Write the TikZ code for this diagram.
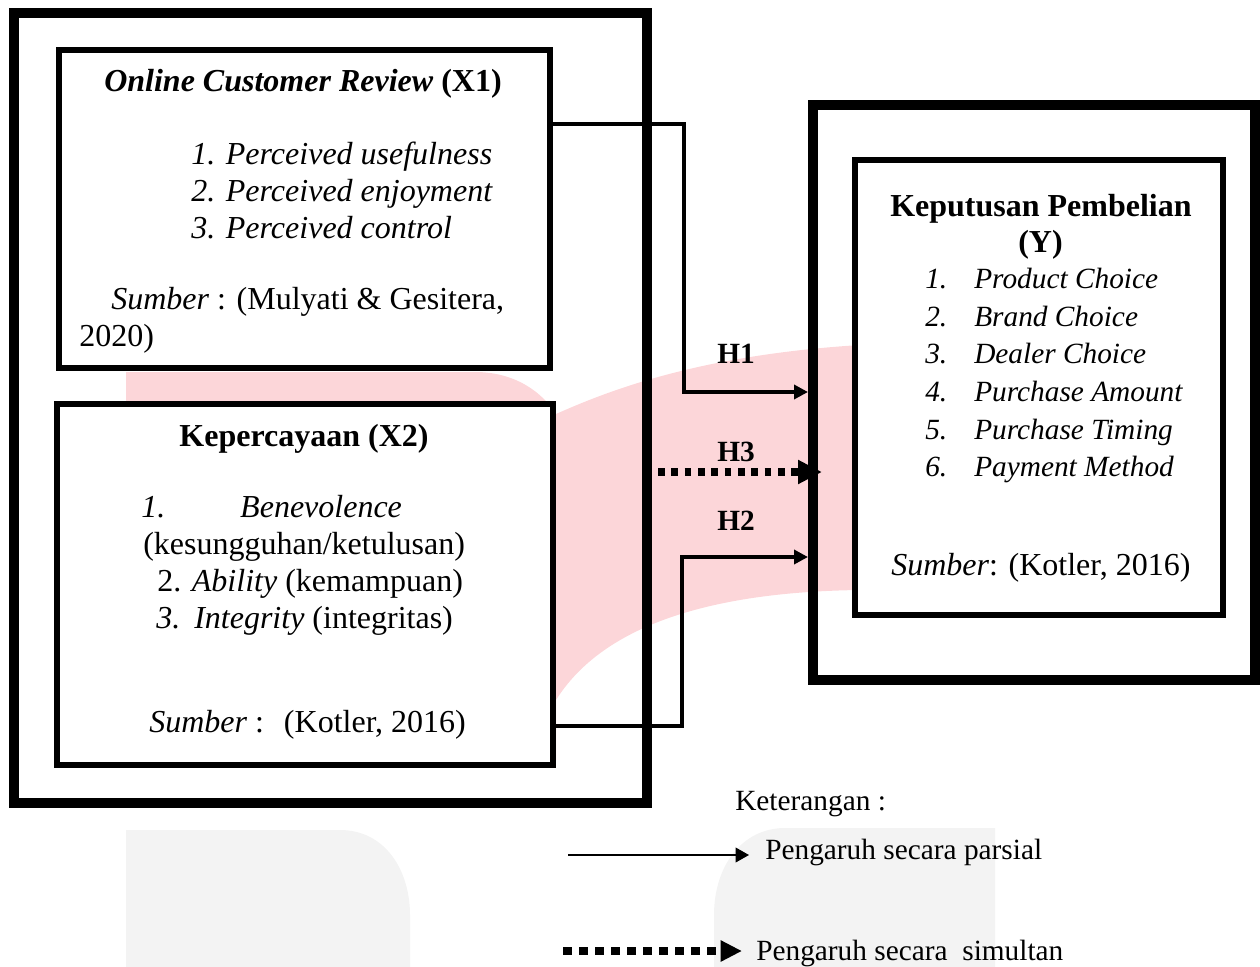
\documentclass[tikz,border=0pt]{standalone}
\usepackage{fontspec}
\setmainfont{Liberation Serif}
\usepackage{xcolor}
\usepackage{tikz}
\usetikzlibrary{positioning}
\usetikzlibrary{arrows.meta}

\definecolor{wmpink}{RGB}{252,214,217}
\definecolor{wmgrey}{RGB}{243,243,243}

\begin{document}
\begin{tikzpicture}[x=0.75pt, y=-0.75pt,
		frame/.style={draw, line width=7.5pt, inner sep=0pt},
		varbox/.style={draw, fill=white, line width=4.5pt, inner sep=0pt},
		txt/.style={inner sep=0pt, font=\fontsize{24}{28}\selectfont},
		small/.style={inner sep=0pt, font=\fontsize{22}{26}\selectfont},
		item/.style={inner sep=0pt, font=\fontsize{22}{26}\selectfont\itshape},
		hlabel/.style={inner sep=0pt, font=\fontsize{22}{26}\selectfont\bfseries},
		parsial/.style={line width=3pt, -{Triangle[length=10.5pt,width=10.5pt]}},
		simultan/.style={line width=6pt, dash pattern=on 5pt off 5pt,
			-{Triangle[length=18pt,width=17pt]}}]
		\useasboundingbox (0,0) rectangle (1260,967);

		\fill[wmpink] (126,372) -- (475,372)
			.. controls (515,372) and (542,392) .. (556,414)
			.. controls (610,390) and (700,355) .. (860,345)
			-- (860,590)
			.. controls (700,592) and (600,630) .. (556,700)
			-- (556,760) -- (126,760) -- cycle;
		\fill[wmgrey] (126,967) |- (340,830)
			.. controls (385,830) and (410,870) .. (410,915) -- (410,967) -- cycle;
		\fill[wmgrey] (995,967) |- (785,828)
			.. controls (742,828) and (714,866) .. (714,915) -- (714,967) -- cycle;

		\node [frame, minimum width=475.1pt, minimum height=592.5pt]
			(leftframe) at (330.25,408) {};
		\node [varbox, minimum width=368.25pt, minimum height=238.5pt]
			(ocr) at (304.5,209) {};
		\node [varbox, minimum width=372pt, minimum height=270.75pt,
			below=22.5pt of ocr] (trust) {};
		\node [frame, minimum width=331.5pt, minimum height=431.25pt]
			(rightframe) at (1034,392.5) {};
		\node [varbox, minimum width=276pt, minimum height=341.6pt]
			(decision) at (1039,387.75) {};

		\node [txt, anchor=base] (ocrtitle) at (303,91)
			{\textbf{\textit{Online Customer Review} (X1)}};
		\node [txt, anchor=base west] (ocra) at (191,164) {\textit{1. Perceived usefulness}};
		\node [txt, anchor=base west] (ocrb) at (191,201) {\textit{2. Perceived enjoyment}};
		\node [txt, anchor=base west] (ocrc) at (191,238) {\textit{3. Perceived control}};
		\node [txt, anchor=base west] (ocrsrc) at (111,309)
			{\textit{Sumber} : (Mulyati \& Gesitera,};
		\node [txt, anchor=base west] (ocryear) at (79,346) {2020)};

		\node [txt, anchor=base] (trusttitle) at (304,446) {\textbf{Kepercayaan (X2)}};
		\node [txt, anchor=base west] (trusta) at (141,517)
			{\makebox[74.25pt][l]{\textit{1.}}\textit{Benevolence}};
		\node [txt, anchor=base west] (trustb) at (143,554) {(kesungguhan/ketulusan)};
		\node [txt, anchor=base west] (trustc) at (157,591) {2. \textit{Ability} (kemampuan)};
		\node [txt, anchor=base west] (trustd) at (156,628)
			{\makebox[28.5pt][l]{\textit{3.}}\textit{Integrity} (integritas)};
		\node [txt, anchor=base west] (trustsrc) at (149,732)
			{\textit{Sumber} :\hspace{15pt}(Kotler, 2016)};

		\node [txt, anchor=base west] (dectitle) at (890,216) {\textbf{Keputusan Pembelian}};
		\node [txt, anchor=base west] (decy) at (1018,252) {\textbf{(Y)}};
		\node [item, anchor=base west] (deca) at (925,288.6)
			{\makebox[36.75pt][l]{1.}Product Choice};
		\node [item, anchor=base west] (decb) at (925,326.2)
			{\makebox[36.75pt][l]{2.}Brand Choice};
		\node [item, anchor=base west] (decc) at (925,363.8)
			{\makebox[36.75pt][l]{3.}Dealer Choice};
		\node [item, anchor=base west] (decd) at (925,401.4)
			{\makebox[36.75pt][l]{4.}Purchase Amount};
		\node [item, anchor=base west] (dece) at (925,439)
			{\makebox[36.75pt][l]{5.}Purchase Timing};
		\node [item, anchor=base west] (decf) at (925,476.6)
			{\makebox[36.75pt][l]{6.}Payment Method};
		\node [txt, anchor=base west] (decsrc) at (891,575)
			{\textit{Sumber}: (Kotler, 2016)};

		\node [hlabel, anchor=base west] (hone) at (717,363) {H1};
		\node [hlabel, anchor=base west] (hthree) at (717,461) {H3};
		\node [hlabel, anchor=base west] (htwo) at (717,530) {H2};

		\node [small, anchor=base west] (legend) at (735,810) {Keterangan :};
		\node [small, anchor=base west] (partxt) at (765,859) {Pengaruh secara parsial};
		\node [small, anchor=base west] (simtxt) at (756,960) {Pengaruh secara\ \ simultan};

		\coordinate (h1row) at (0,124);
		\coordinate (h1bend) at (684,392);
		\coordinate (h2row) at (0,726);
		\coordinate (h2bend) at (682,557);
		\coordinate (h3start) at (658,472);
		\coordinate (legpar) at (568,855);
		\coordinate (legsim) at (563,951);

		\draw [parsial] (ocr.east |- h1row) -| (h1bend) -- (rightframe.west |- h1bend);
		\draw [parsial] (trust.east |- h2row) -| (h2bend) -- (rightframe.west |- h2bend);
		\draw [simultan, shorten >=-10.5pt] (h3start) -- (rightframe.west |- h3start);

		\draw [line width=1.1pt, -{Triangle[length=10pt,width=11pt]}, shorten >=12pt]
			(legpar) -- (legpar -| partxt.west);
		\draw [simultan, dash pattern=on 6.5pt off 5.5pt,
			-{Triangle[length=16pt,width=15pt]}, shorten >=10.5pt]
			(legsim) -- (legsim -| simtxt.west);
\end{tikzpicture}
\end{document}
